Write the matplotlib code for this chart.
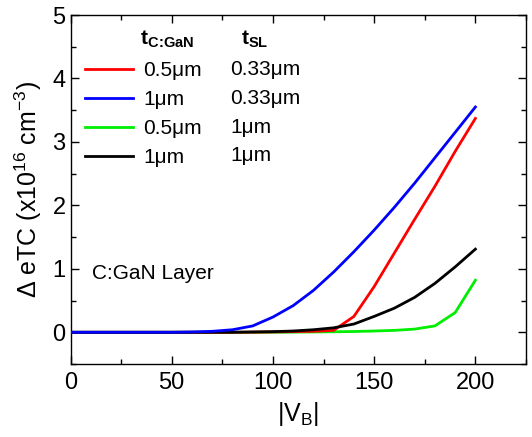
import matplotlib
matplotlib.use("Agg")
import matplotlib.pyplot as plt
from matplotlib.ticker import MultipleLocator

plt.rcParams['font.family'] = ['Liberation Sans', 'DejaVu Sans']
plt.rcParams['mathtext.fontset'] = 'custom'
plt.rcParams['mathtext.rm'] = 'Liberation Sans'
plt.rcParams['mathtext.it'] = 'Liberation Sans:italic'
plt.rcParams['mathtext.bf'] = 'Liberation Sans:bold'

vb = [0, 10, 20, 30, 40, 50, 60, 70, 80, 90, 100, 110, 120, 130, 140, 150, 160, 170, 180, 190, 200]
red = [0, 0, 0, 0, 0, 0, 0, 0, 0, 0.002, 0.005, 0.01, 0.015, 0.03, 0.25, 0.72, 1.25, 1.78, 2.3, 2.85, 3.37]
blue = [0, 0, 0, 0, 0, 0, 0.005, 0.015, 0.04, 0.1, 0.24, 0.42, 0.66, 0.95, 1.27, 1.61, 1.97, 2.35, 2.75, 3.15, 3.55]
green = [0, 0, 0, 0, 0, 0, 0, 0, 0, 0, 0, 0.002, 0.005, 0.008, 0.012, 0.02, 0.03, 0.05, 0.1, 0.31, 0.82]
black = [0, 0, 0, 0, 0, 0, 0, 0, 0, 0.005, 0.01, 0.02, 0.04, 0.07, 0.13, 0.25, 0.38, 0.55, 0.77, 1.03, 1.31]

t_cgan = ['0.5\u03bcm', '1\u03bcm', '0.5\u03bcm', '1\u03bcm']
t_sl = ['0.33\u03bcm', '0.33\u03bcm', '1\u03bcm', '1\u03bcm']

fig = plt.figure(figsize=(5.32, 4.37), dpi=100)
ax = fig.add_axes([70.5/532, 1 - 364/437, (526 - 70.5)/532, (364 - 15)/437])

lw = 2.0
l_red, = ax.plot(vb, red, color='#ff0000', lw=lw, zorder=3)
l_blue, = ax.plot(vb, blue, color='#0000ff', lw=lw, zorder=5)
l_green, = ax.plot(vb, green, color='#00ee00', lw=lw, zorder=2)
l_black, = ax.plot(vb, black, color='black', lw=lw, zorder=4)

ax.set_xlim(0, 225)
ax.set_ylim(-0.5, 5)
ax.xaxis.set_major_locator(MultipleLocator(50))
ax.xaxis.set_minor_locator(MultipleLocator(25))
ax.yaxis.set_major_locator(MultipleLocator(1))
ax.yaxis.set_minor_locator(MultipleLocator(0.5))
ax.tick_params(which='both', direction='in', top=True, right=True, labelsize=17, width=1)
ax.tick_params(which='major', length=6)
ax.tick_params(which='minor', length=3.5)
ax.tick_params(axis='x', pad=6)
for s in ax.spines.values():
    s.set_linewidth(1)

ax.set_xlabel(r'|V$_\mathregular{B}$|', fontsize=18, labelpad=4)
ax.set_ylabel(r'$\Delta$ eTC (x10$^\mathregular{16}$ cm$^\mathregular{-3}$)', fontsize=18, labelpad=6)

leg = ax.legend([l_red, l_blue, l_green, l_black], t_cgan, loc='upper left',
                bbox_to_anchor=(0.0, 0.91), frameon=False, fontsize=15,
                handlelength=2.3, handletextpad=0.5, labelspacing=0.48,
                borderaxespad=0.3)

tr = ax.transAxes
ax.text(0.153, 0.93, r'$\mathbf{t_{C\!:\!GaN}}$', transform=tr, fontsize=15, va='center', ha='left')
ax.text(0.375, 0.93, r'$\mathbf{t_{SL}}$', transform=tr, fontsize=15, va='center', ha='left')
rows_y = [0.845, 0.762, 0.679, 0.596]
for y, s in zip(rows_y, t_sl):
    ax.text(0.35, y, s, transform=tr, fontsize=15, va='center', ha='left')

ax.text(0.048, 0.26, 'C:GaN Layer', transform=tr, fontsize=15, va='center', ha='left')

fig.savefig('out.png', dpi=100)
